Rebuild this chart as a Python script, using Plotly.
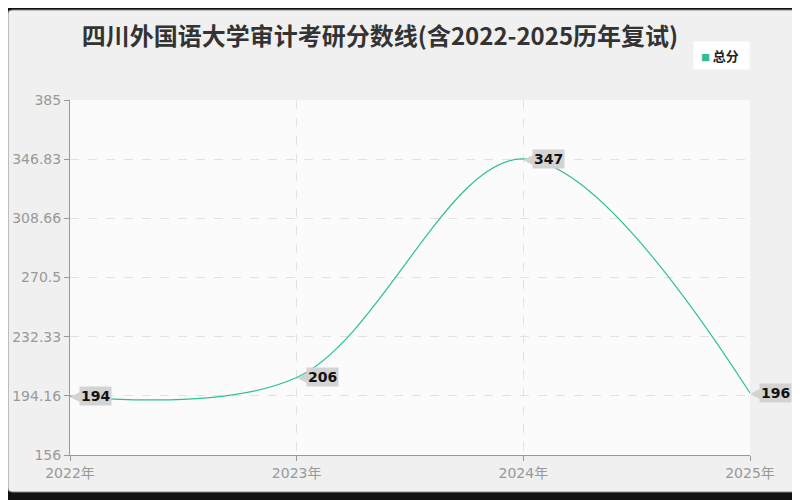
import plotly.graph_objects as go

# data
years = ['2022年', '2023年', '2024年', '2025年']
scores = [194, 206, 347, 196]
y_ticks = [156, 194.16, 232.33, 270.5, 308.66, 346.83, 385]
y_tick_text = ['156', '194.16', '232.33', '270.5', '308.66', '346.83', '385']

line_color = '#2ec08e'

fig = go.Figure()

fig.add_trace(go.Scatter(
    x=years, y=scores, mode='lines',
    line=dict(color=line_color, width=1.2, shape='spline', smoothing=1.0),
    showlegend=False, hoverinfo='x+y'))

# point labels: grey tag pointing to the point
for yr, s in zip(years, scores):
    fig.add_annotation(x=yr, y=s, text='◀', showarrow=False,
                       xanchor='left', yanchor='middle', xshift=-2,
                       font=dict(size=15, color='#d3d3d3', family='DejaVu Sans'))
    fig.add_annotation(x=yr, y=s, text='<b>%d</b>' % s, showarrow=False,
                       xanchor='left', yanchor='middle', xshift=9,
                       bgcolor='#d3d3d3', borderpad=1,
                       font=dict(size=14, color='#111', family='DejaVu Sans'))

# legend box drawn by hand (small square + name)
fig.add_annotation(xref='paper', yref='paper', x=1, y=1 + 44/355,
                   xanchor='right', yanchor='middle', showarrow=False,
                   text='&nbsp;<span style="color:%s;font-size:9px">■</span>&nbsp;<b>总分</b>&nbsp;&nbsp;' % line_color,
                   bgcolor='#ffffff', borderpad=4,
                   font=dict(size=13, color='#222', family='Noto Sans CJK SC'))

# outer frame and plot background
fig.add_shape(type='path', xref='paper', yref='paper', layer='below',
              path='M %f %f L %f %f Q %f %f %f %f L %f %f Q %f %f %f %f L %f %f Q %f %f %f %f L %f %f Q %f %f %f %f Z' % (
                  -58/680, 445/355, 722/680, 445/355,
                  726/680, 445/355, 726/680, 441/355,
                  726/680, -33/355,
                  726/680, -37/355, 722/680, -37/355,
                  -58/680, -37/355,
                  -62/680, -37/355, -62/680, -33/355,
                  -62/680, 441/355,
                  -62/680, 445/355, -58/680, 445/355),
              fillcolor='#f0f0f0', line=dict(color='#8a8a8a', width=1))
fig.add_shape(type='rect', xref='x domain', yref='y domain', layer='below',
              x0=0, x1=1, y0=0, y1=1, fillcolor='#fbfbfb', line=dict(width=0))

tick_font = dict(size=14, color='#999', family='DejaVu Sans, Noto Sans CJK SC')

fig.update_layout(
    width=792, height=492,
    margin=dict(l=62, r=50, t=92, b=45),
    paper_bgcolor='#111111',
    plot_bgcolor='#fbfbfb',
    font=dict(family='Noto Sans CJK SC', color='#999'),
    title=dict(text='<b>四川外国语大学审计考研分数线(含2022-2025历年复试)</b>',
               x=372/792, xanchor='center', y=1 - 29/492, yanchor='middle',
               font=dict(size=24, color='#333', family='Noto Sans CJK SC')),
    showlegend=False,
    xaxis=dict(range=[0, 3], showgrid=True, gridcolor='#e2e2e2', griddash='dash',
               showline=True, linecolor='#999', linewidth=1,
               ticks='outside', ticklen=5, tickcolor='#999',
               tickfont=tick_font, zeroline=False, automargin=False),
    yaxis=dict(range=[156, 385], tickvals=y_ticks, ticktext=y_tick_text,
               showgrid=True, gridcolor='#e2e2e2', griddash='dash',
               showline=True, linecolor='#999', linewidth=1,
               ticks='outside', ticklen=5, tickcolor='#999',
               tickfont=tick_font, zeroline=False, automargin=False),
)

fig.write_html('out.html')
